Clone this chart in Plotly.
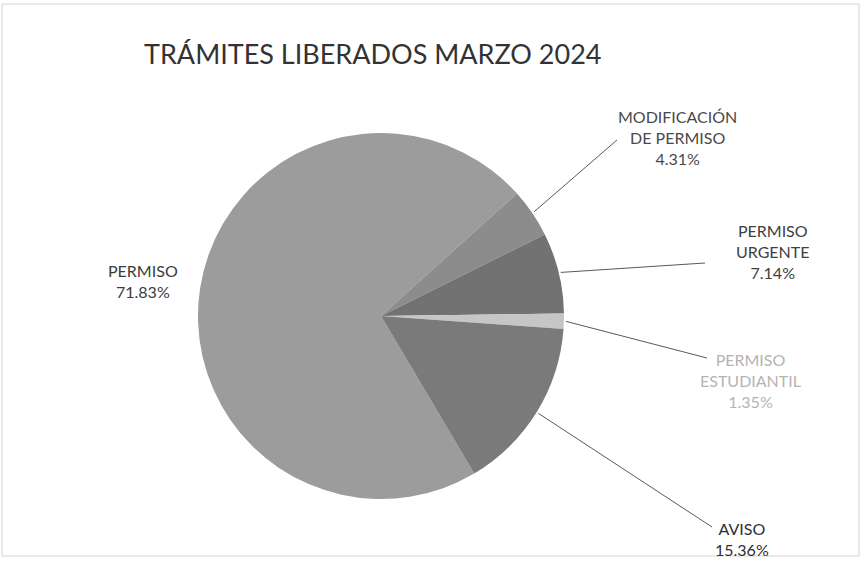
import numpy as np
import plotly.graph_objects as go

# ---- data ----
categories = ["PERMISO", "MODIFICACIÓN DE PERMISO", "PERMISO URGENTE", "PERMISO ESTUDIANTIL", "AVISO"]
percentages = [71.83, 4.31, 7.14, 1.35, 15.36]
label_lines = [["PERMISO"], ["MODIFICACIÓN", "DE PERMISO"], ["PERMISO", "URGENTE"], ["PERMISO", "ESTUDIANTIL"], ["AVISO"]]
title_text = "TRÁMITES LIBERADOS MARZO 2024"

# ---- style / layout ----
W, H = 862, 565
CX, CY, R = 381, 316, 183
colors = ["#9c9c9c", "#8c8c8c", "#727272", "#c6c6c6", "#7a7a7a"]
start_second = 48.0  # clockwise-from-top angle where 2nd slice starts
FONT = "Lato, Open Sans, sans-serif"

total = float(sum(percentages))
rotation = start_second - 360.0 * percentages[0] / total

def paper(x, y):
    return x / W, 1 - y / H

fig = go.Figure()
fig.add_trace(go.Pie(
    labels=categories, values=percentages, sort=False, direction="clockwise",
    rotation=rotation, marker=dict(colors=colors, line=dict(width=0)),
    textinfo="none", hoverinfo="label+percent", showlegend=False,
    domain=dict(x=[(CX - R) / W, (CX + R) / W], y=[1 - (CY + R) / H, 1 - (CY - R) / H]),
))

# label positions (pixel, center) and leader-line end points
label_pos = [(143, 281), (677, 137), (773, 252), (750, 380), (742, 539)]
leader_end = [None, (617, 140), (705, 263), (707, 358), (712, 527)]
label_colors = ["#3c3c3c", "#4a4a4a", "#404040", "#b4b4b4", "#303030"]

shapes = []
annotations = []
cum = 0.0
for i, v in enumerate(percentages):
    mid = np.deg2rad(rotation + 360.0 * (cum + v / 2) / total)
    cum += v
    if leader_end[i] is not None:
        sx = CX + (R + 2) * np.sin(mid)
        sy = CY - (R + 2) * np.cos(mid)
        x0, y0 = paper(sx, sy)
        x1, y1 = paper(*leader_end[i])
        shapes.append(dict(type="line", xref="paper", yref="paper", x0=x0, y0=y0, x1=x1, y1=y1,
                           line=dict(color="#5a5a5a", width=1)))
    lx, ly = paper(*label_pos[i])
    txt = "<br>".join(label_lines[i] + [f"{v:.2f}%"])
    annotations.append(dict(text=txt, x=lx, y=ly, xref="paper", yref="paper", showarrow=False,
                            xanchor="center", yanchor="middle", align="center",
                            font=dict(family=FONT, size=16, color=label_colors[i])))

tx, ty = paper(372, 53)
annotations.append(dict(text=title_text, x=tx, y=ty, xref="paper", yref="paper", showarrow=False,
                        xanchor="center", yanchor="middle",
                        font=dict(family=FONT, size=27, color="#333333")))

bx0, by0 = paper(2, 4)
bx1, by1 = paper(859, 556)
shapes.append(dict(type="rect", xref="paper", yref="paper", x0=bx0, y0=by1, x1=bx1, y1=by0,
                   line=dict(color="#d4d4d4", width=1)))

fig.update_layout(width=W, height=H, margin=dict(l=0, r=0, t=0, b=0),
                  paper_bgcolor="white", plot_bgcolor="white",
                  shapes=shapes, annotations=annotations)

fig.write_html("out.html", config={"displayModeBar": False},
               post_script="document.body.style.margin='0';document.body.style.overflow='hidden';")
